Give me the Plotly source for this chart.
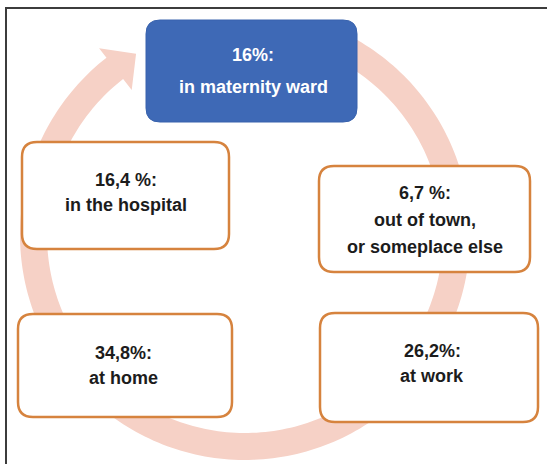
import numpy as np
import plotly.graph_objects as go

# ---- data ----
locations = ["in maternity ward", "in the hospital", "out of town,<br>or someplace else",
             "at work", "at home"]
shares = [16.0, 16.4, 6.7, 26.2, 34.8]
share_labels = ["16%:", "16,4 %:", "6,7 %:", "26,2%:", "34,8%:"]

# ---- layout (positions of the boxes, in pixels) ----
W, H = 547, 464
boxes = [  # x0, x1, y0, y1, text centre x, first line y, line step, style
    (146, 357, 20, 122, 253, 55, 32, "blue"),
    (22, 229, 142, 249, 126, 180, 25, "white"),
    (319, 530, 166, 272, 425, 193, 27, "white"),
    (320, 538, 313, 422, 432, 351, 25, "white"),
    (18, 232, 314, 417, 123, 353, 25, "white"),
]

fig = go.Figure()
fig.add_trace(go.Scatter(x=[0, W], y=[0, H], mode="markers",
                         marker=dict(opacity=0), hoverinfo="skip", showlegend=False))

shapes = []

# frame
shapes.append(dict(type="rect", xref="x", yref="y", x0=6, y0=8, x1=W + 40, y1=H + 40,
                   line=dict(color="#3c3c3c", width=2), fillcolor="rgba(0,0,0,0)", layer="below"))

# circular arrow
cx, cy = 245, 235
r_out, r_in = 225, 198
r_mid = (r_out + r_in) / 2
a_start, a_base, a_tip = 65, -232, -239
th = np.radians(np.linspace(a_start, a_base, 240))
pts = [(cx + r_out * np.cos(t), cy - r_out * np.sin(t)) for t in th]
tb = np.radians(a_base)
tt = np.radians(a_tip)
pts.append((cx + 237 * np.cos(tb), cy - 237 * np.sin(tb)))
pts.append((cx + r_mid * np.cos(tt), cy - r_mid * np.sin(tt)))
pts.append((cx + 184 * np.cos(tb), cy - 184 * np.sin(tb)))
pts += [(cx + r_in * np.cos(t), cy - r_in * np.sin(t)) for t in th[::-1]]
path = "M " + " L ".join(f"{x:.2f},{y:.2f}" for x, y in pts) + " Z"
shapes.append(dict(type="path", xref="x", yref="y", path=path,
                   fillcolor="#f6d1c6", line=dict(width=0), layer="below"))


def rounded(x0, x1, y0, y1, r):
    return (f"M {x0 + r},{y0} L {x1 - r},{y0} Q {x1},{y0} {x1},{y0 + r} "
            f"L {x1},{y1 - r} Q {x1},{y1} {x1 - r},{y1} L {x0 + r},{y1} "
            f"Q {x0},{y1} {x0},{y1 - r} L {x0},{y0 + r} Q {x0},{y0} {x0 + r},{y0} Z")


annotations = []
for (x0, x1, y0, y1, tx, ty, step, style), loc, lab in zip(boxes, locations, share_labels):
    if style == "blue":
        shapes.append(dict(type="path", xref="x", yref="y", path=rounded(x0, x1, y0, y1, 14),
                           fillcolor="#3e69b6", line=dict(color="#3862ad", width=1)))
        col = "#ffffff"
    else:
        shapes.append(dict(type="path", xref="x", yref="y", path=rounded(x0, x1, y0, y1, 15),
                           fillcolor="#ffffff", line=dict(color="#d6833e", width=2.5)))
        col = "#1c1c1c"
    lines = [lab] + loc.split("<br>")
    for i, ln in enumerate(lines):
        annotations.append(dict(x=tx, y=ty + i * step, xref="x", yref="y", text=f"<b>{ln}</b>",
                                showarrow=False, xanchor="center", yanchor="middle",
                                font=dict(family="Liberation Sans, Arial", size=18, color=col)))

fig.update_layout(
    width=W, height=H, margin=dict(l=0, r=0, t=0, b=0),
    paper_bgcolor="white", plot_bgcolor="white",
    xaxis=dict(range=[0, W], visible=False, fixedrange=True),
    yaxis=dict(range=[H, 0], visible=False, fixedrange=True),
    shapes=shapes, annotations=annotations, showlegend=False,
)
fig.write_html("out.html", config={"displayModeBar": False},
               post_script="document.body.style.margin='0';document.body.style.overflow='hidden';")
